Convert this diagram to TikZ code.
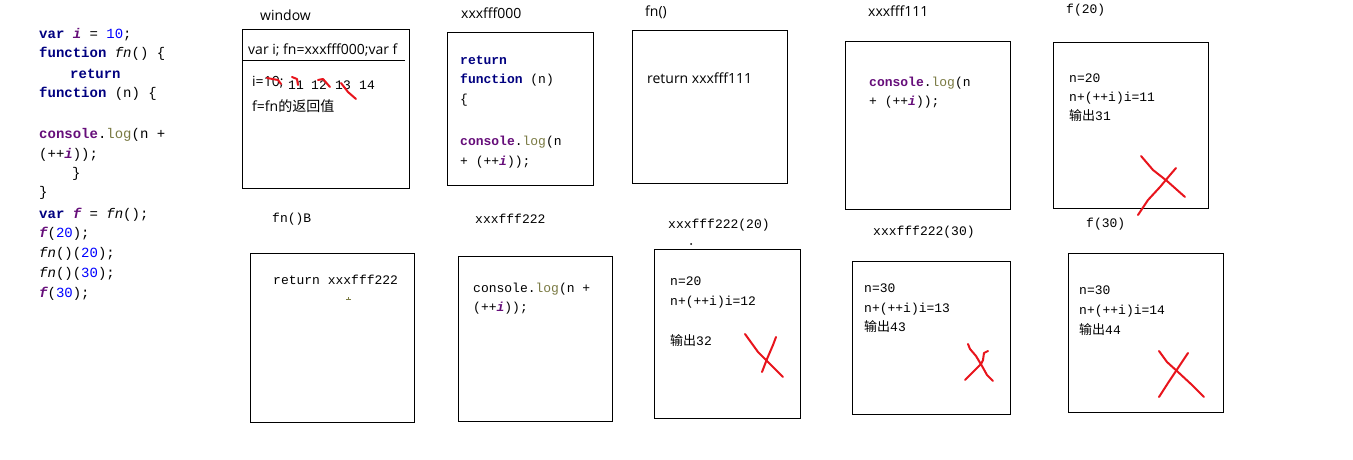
\documentclass[tikz,border=0pt]{standalone}
\usepackage{fontspec}
\newfontfamily\cn{Noto Sans CJK SC}
\newfontfamily\sansf{Open Sans}
\newfontfamily\mono{Liberation Mono}
\definecolor{kwc}{HTML}{000080}
\definecolor{pur}{HTML}{660E7A}
\definecolor{numc}{HTML}{0000FF}
\definecolor{olv}{HTML}{7A7A43}
\definecolor{redx}{HTML}{E8141C}
\newcommand{\kw}[1]{\textbf{\textcolor{kwc}{#1}}}
\newcommand{\pv}[1]{\textbf{\textit{\textcolor{pur}{#1}}}}
\newcommand{\nm}[1]{\textcolor{numc}{#1}}
\newcommand{\cons}{\textbf{\textcolor{pur}{console}}}
\newcommand{\loglbl}{\textcolor{olv}{log}}
\begin{document}
\begin{tikzpicture}[x=1pt,y=-1pt,
  lcode/.style={anchor=west,inner sep=0pt,font=\mono\fontsize{14}{14}\selectfont,text height=9pt,text depth=3pt},
  code/.style={anchor=west,inner sep=0pt,font=\mono\fontsize{13}{13}\selectfont,text height=9pt,text depth=3pt},
  sans/.style={anchor=west,inner sep=0pt,font=\sansf\fontsize{14}{14}\selectfont,text height=9pt,text depth=3pt},
  frame/.style={draw=black,line width=1pt,anchor=north west,inner sep=0pt},
  redmark/.style={draw=redx,line width=2pt,line cap=round,line join=round}]
\useasboundingbox[fill=white] (0,0) rectangle (1353,460);

% left column code
\node[lcode] (c1) at (39,36) {\kw{var} \pv{i} = \nm{10};};
\node[lcode] (c2) at (39,55) {\kw{function} \textit{fn}() \{};
\node[lcode] (c3) at (70,75) {\kw{return}};
\node[lcode] (c4) at (39,95) {\kw{function} (n) \{};
\node[lcode] (c5) at (39,136) {\cons.\loglbl(n +};
\node[lcode] (c6) at (39,155) {(++\pv{i}));};
\node[lcode] (c7) at (72,174) {\}};
\node[lcode] (c8) at (39,193) {\}};
\node[lcode] (c9) at (39,215) {\kw{var} \pv{f} = \textit{fn}();};
\node[lcode] (c10) at (39,234) {\pv{f}(\nm{20});};
\node[lcode] (c11) at (39,254) {\textit{fn}()(\nm{20});};
\node[lcode] (c12) at (39,274) {\textit{fn}()(\nm{30});};
\node[lcode] (c13) at (39,294) {\pv{f}(\nm{30});};

% window box
\node[sans] (twin) at (260,18) {window};
\node[frame,minimum width=167pt,minimum height=159pt] (bwin) at (242,29) {};
\coordinate (wl) at (242,61);
\coordinate (wr) at (405,61);
\draw[line width=1pt] (wl) -- (wr);
\node[sans] (w1) at (248,52) {var i; fn=xxxfff000;var f};
\node[sans] (w2) at (252,84) {i=10;};
\node[code] (w3) at (288,86) {11};
\node[code] (w4) at (311,86) {12};
\node[code] (w5) at (335,86) {13};
\node[code] (w6) at (359,86) {14};
\node[sans] (w7) at (252,108) {f=fn{\cn 的返回值}};
\draw[redmark] (267,78) -- (278,80) -- (281,84);
\draw[redmark] (292,77) -- (297,79) -- (298,85);
\draw[redmark] (318,80) -- (323,79) -- (330,87);
\draw[redmark] (341,83) -- (348,92) -- (356,99);

% xxxfff000
\node[sans] (t0) at (461,16) {xxxfff000};
\node[frame,minimum width=146pt,minimum height=153pt] (b0) at (447,32) {};
\node[code] (a1) at (460,62) {\kw{return}};
\node[code] (a2) at (460,81) {\kw{function} (n)};
\node[code] (a3) at (460,100) {\{};
\node[code] (a4) at (460,142) {\cons.\loglbl(n};
\node[code] (a5) at (460,162) {+ (++\pv{i}));};

% fn()
\node[sans] (t1) at (645,14) {fn()};
\node[frame,minimum width=155pt,minimum height=153pt] (b1) at (632,30) {};
\node[sans] (b1t) at (647,81) {return xxxfff111};

% xxxfff111
\node[sans] (t2) at (868,14) {xxxfff111};
\node[frame,minimum width=165pt,minimum height=168pt] (b2) at (845,41) {};
\node[code] (b2a) at (869,84) {\cons.\loglbl(n};
\node[code] (b2b) at (869,103) {+ (++\pv{i}));};

% f(20)
\node[code] (t3) at (1066,11) {f(20)};
\node[frame,minimum width=155pt,minimum height=166pt] (b3) at (1053,42) {};
\node[code] (b3a) at (1069,79) {n=20};
\node[code] (b3b) at (1069,99) {n+(++i)i=11};
\node[code] (b3c) at (1069,118) {{\cn 输出}31};
\draw[redmark] (1141,156) -- (1153,170) -- (1167,181) -- (1185,197);
\draw[redmark] (1176,168) -- (1170,175) -- (1160,187) -- (1148,200) -- (1138,215);

% fn()B
\node[code] (t4) at (272,219) {fn()B};
\node[frame,minimum width=164pt,minimum height=169pt] (b4) at (250,253) {};
\node[code] (b4a) at (273,281) {return xxxfff222};
\draw[olv,line width=1pt] (346,299) -- (351,299);
\draw[olv,line width=1pt] (348.5,297) -- (348.5,299);

% xxxfff222
\node[code] (t5) at (475,220) {xxxfff222};
\node[frame,minimum width=154pt,minimum height=165pt] (b5) at (458,256) {};
\node[code] (b5a) at (473,289) {console.\loglbl(n +};
\node[code] (b5b) at (473,308) {(++\pv{i}));};

% xxxfff222(20)
\node[code] (t6) at (668,225) {xxxfff222(20)};
\fill (691,244) circle (1pt);
\node[frame,minimum width=146pt,minimum height=169pt] (b6) at (654,249) {};
\node[code] (b6a) at (670,282) {n=20};
\node[code] (b6b) at (670,302) {n+(++i)i=12};
\node[code] (b6c) at (670,342) {{\cn 输出}32};
\draw[redmark] (745,334) -- (758,352) -- (767,361) -- (783,377);
\draw[redmark] (776,337) -- (773,345) -- (767,359) -- (762,372);

% xxxfff222(30)
\node[code] (t7) at (873,232) {xxxfff222(30)};
\node[frame,minimum width=158pt,minimum height=153pt] (b7) at (852,261) {};
\node[code] (b7a) at (864,289) {n=30};
\node[code] (b7b) at (864,309) {n+(++i)i=13};
\node[code] (b7c) at (864,328) {{\cn 输出}43};
\draw[redmark] (968,344) -- (970,349) -- (976,356) -- (982,366) -- (987,375) -- (993,381);
\draw[redmark] (988,351) -- (984,353) -- (983,360) -- (981,364) -- (973,372) -- (965,380);

% f(30)
\node[code] (t8) at (1086,224) {f(30)};
\node[frame,minimum width=155pt,minimum height=159pt] (b8) at (1068,253) {};
\node[code] (b8a) at (1079,291) {n=30};
\node[code] (b8b) at (1079,311) {n+(++i)i=14};
\node[code] (b8c) at (1079,331) {{\cn 输出}44};
\draw[redmark] (1159,351) -- (1167,362) -- (1178,372) -- (1192,385) -- (1204,397);
\draw[redmark] (1188,353) -- (1180,365) -- (1168,383) -- (1159,397);
\end{tikzpicture}
\end{document}
